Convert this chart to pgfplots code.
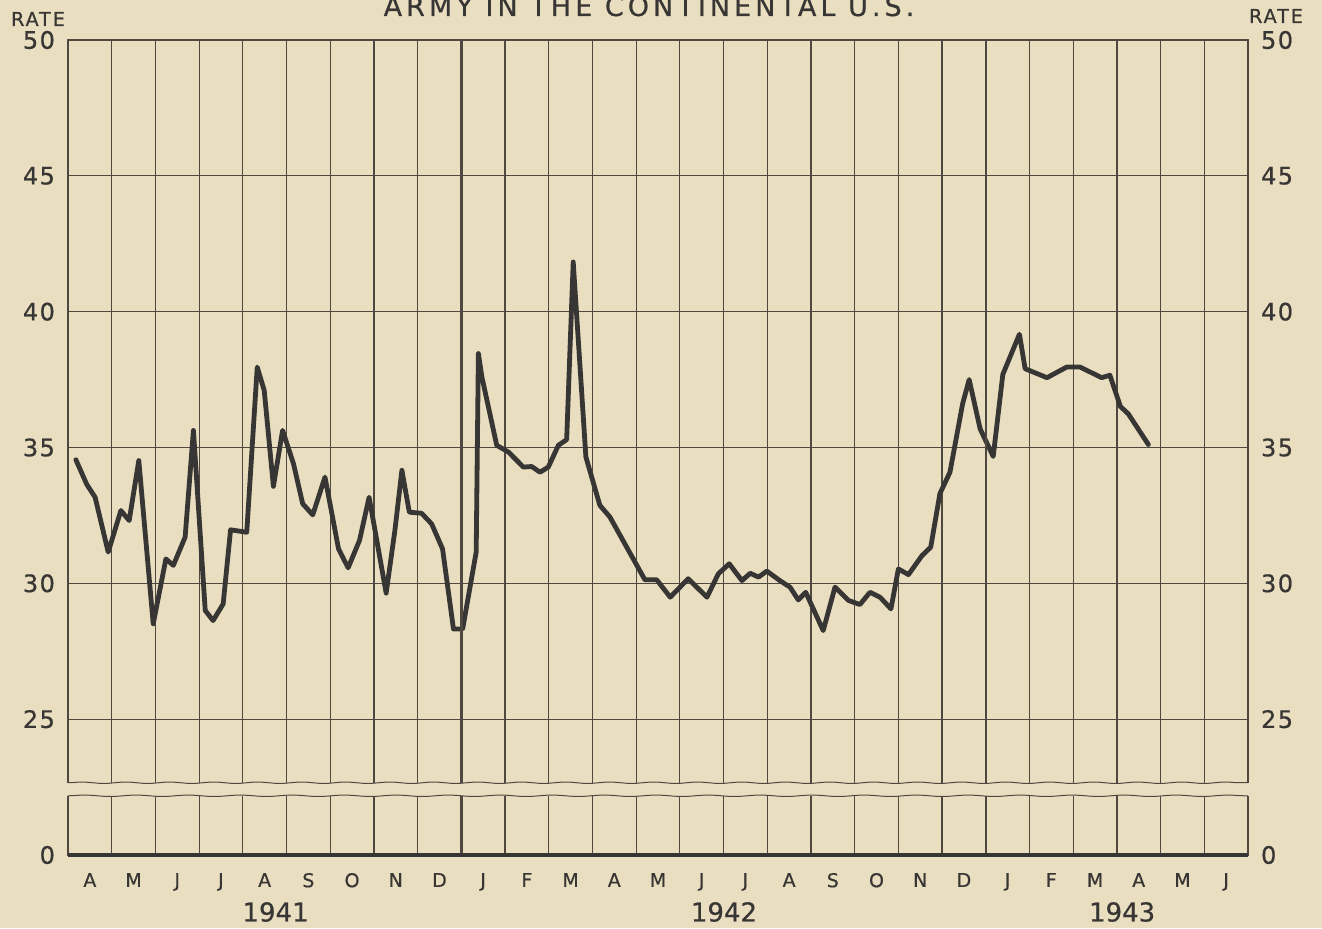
\documentclass[border=0pt]{standalone}
\usepackage{pgfplots}
\pgfplotsset{compat=1.18}
\usepackage{fontspec}
\setmainfont{DejaVu Sans}[FakeBold=0.6]
\usetikzlibrary{decorations.pathmorphing}

\definecolor{paper}{RGB}{234,222,192}
\definecolor{ink}{RGB}{56,54,52}
\definecolor{gridink}{RGB}{78,72,64}

\begin{document}
\begin{tikzpicture}
\fill[paper] (-34pt,-36.5pt) rectangle (627pt,427.5pt);

\begin{axis}[
  scale only axis, width=590pt, height=407.5pt,
  at={(0,0)}, anchor=south west,
  clip=false,
  xmin=0, xmax=27, ymin=20, ymax=50,
  axis line style={gridink, line width=0.7pt},
  xtick={0.5,1.5,...,26.5},
  xticklabels={A,M,J,J,A,S,O,N,D,J,F,M,A,M,J,J,A,S,O,N,D,J,F,M,A,M,J},
  minor xtick={1,2,...,26},
  ytick={20,25,30,35,40,45,50},
  yticklabels={0,25,30,35,40,45,50},
  major tick length=0pt, minor tick length=0pt,
  xminorgrids=true, ymajorgrids=true,
  minor grid style={gridink, line width=0.6pt},
  major grid style={gridink, line width=0.6pt},
  /pgf/number format/assume math mode=true,
  xticklabel style={font=\fontsize{9.5}{10}\selectfont, text=ink, yshift=-5.5pt},
  yticklabel style={font=\fontsize{12}{14}\selectfont\addfontfeatures{LetterSpace=6}, text=ink, xshift=-3pt},
]
% weekly rate
\addplot[ink, line width=2.4pt, line join=round, line cap=round] coordinates {
(0.18,34.55) (0.43,33.64) (0.62,33.17) (0.92,31.15) (1.21,32.68) (1.40,32.31)
(1.62,34.52) (1.95,28.51) (2.24,30.90) (2.41,30.66) (2.68,31.70) (2.87,35.63)
(3.14,29.00) (3.32,28.63) (3.55,29.24) (3.72,31.97) (4.09,31.88) (4.33,37.96)
(4.49,37.10) (4.70,33.57) (4.91,35.63) (5.16,34.40) (5.37,32.93) (5.60,32.52)
(5.88,33.91) (6.19,31.27) (6.41,30.57) (6.67,31.58) (6.89,33.17) (7.28,29.64)
(7.48,31.95) (7.64,34.16) (7.81,32.62) (8.09,32.58) (8.32,32.19) (8.57,31.27)
(8.82,28.32) (9.03,28.32) (9.34,31.15) (9.39,38.46) (9.47,37.60) (9.81,35.08)
(10.08,34.83) (10.42,34.28) (10.61,34.30) (10.80,34.09) (10.99,34.28) (11.22,35.08)
(11.41,35.29) (11.56,41.83) (11.85,34.65) (12.17,32.87) (12.40,32.44) (13.20,30.13)
(13.47,30.13) (13.78,29.49) (14.19,30.17) (14.62,29.49) (14.88,30.35) (15.13,30.72)
(15.42,30.10) (15.61,30.37) (15.80,30.23) (15.99,30.45) (16.29,30.10) (16.52,29.86)
(16.71,29.39) (16.88,29.67) (17.28,28.26) (17.55,29.86) (17.86,29.37) (18.12,29.22)
(18.35,29.67) (18.58,29.49) (18.83,29.06) (19.00,30.53) (19.23,30.32) (19.54,31.02)
(19.74,31.33) (19.95,33.30) (20.18,34.09) (20.47,36.61) (20.62,37.50) (20.87,35.69)
(21.17,34.67) (21.39,37.69) (21.77,39.17) (21.90,37.90) (22.40,37.57) (22.85,37.96)
(23.16,37.96) (23.65,37.57) (23.84,37.66) (24.08,36.51) (24.26,36.24) (24.72,35.11)
};
% heavier year lines
\draw[gridink, line width=1.2pt] (axis cs:9,20) -- (axis cs:9,50);
\draw[gridink, line width=1.2pt] (axis cs:21,20) -- (axis cs:21,50);
% scale break
\fill[paper] (axis cs:-0.1,22.18) rectangle (axis cs:27.1,22.66);
\draw[gridink, line width=0.5pt, decorate, decoration={snake, amplitude=0.35pt, segment length=22pt}]
  (axis cs:0,22.66) -- (axis cs:27,22.66);
\draw[gridink, line width=0.5pt, decorate, decoration={snake, amplitude=0.35pt, segment length=26pt}]
  (axis cs:0,22.18) -- (axis cs:27,22.18);
\draw[ink, line width=1.6pt] (axis cs:0,20) -- (axis cs:27,20);
% years
\node[font=\fontsize{13}{15}\selectfont, text=ink, yshift=-28.5pt] at (axis cs:4.75,20) {1941};
\node[font=\fontsize{13}{15}\selectfont, text=ink, yshift=-28.5pt] at (axis cs:15.01,20) {1942};
\node[font=\fontsize{13}{15}\selectfont, text=ink, yshift=-28.5pt] at (axis cs:24.12,20) {1943};
\end{axis}

\begin{axis}[
  scale only axis, width=590pt, height=407.5pt,
  at={(0,0)}, anchor=south west,
  xmin=0, xmax=27, ymin=20, ymax=50,
  hide x axis, axis y line*=right,
  axis line style={draw=none},
  ytick={20,25,30,35,40,45,50},
  yticklabels={0,25,30,35,40,45,50},
  major tick length=0pt,
  /pgf/number format/assume math mode=true,
  yticklabel style={font=\fontsize{12}{14}\selectfont\addfontfeatures{LetterSpace=6}, text=ink, xshift=3pt},
]
\end{axis}

\node[font=\fontsize{9.6}{11}\selectfont\addfontfeatures{LetterSpace=10}, text=ink] at (-15pt,418pt) {RATE};
\node[font=\fontsize{9.6}{11}\selectfont\addfontfeatures{LetterSpace=10}, text=ink] at (604pt,419.5pt) {RATE};
\node[font=\fontsize{13.5}{15}\selectfont\addfontfeatures{LetterSpace=15}, text=ink, anchor=base]
  at (290.5pt,419.5pt) {ARMY IN THE CONTINENTAL U.S.};

\pgfresetboundingbox
\useasboundingbox (-34pt,-36.5pt) rectangle (627pt,427.5pt);
\end{tikzpicture}
\end{document}
